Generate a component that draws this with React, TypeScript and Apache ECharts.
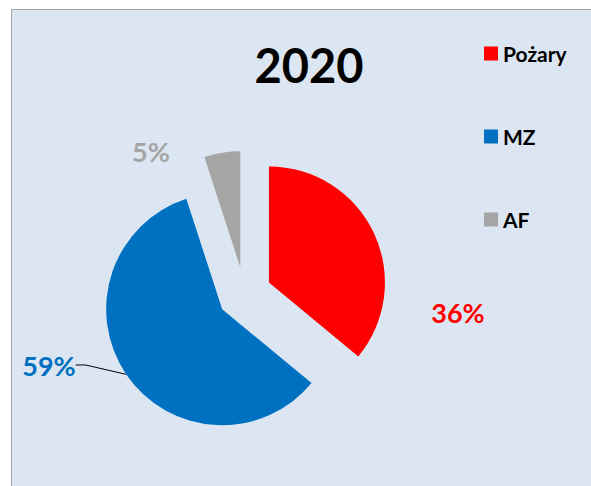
import React, { useEffect, useRef } from "react";
import * as echarts from "echarts";

const title = "2020";
const categories = ["Pożary", "MZ", "AF"];
const shares = [36, 59, 5];
const colors = ["#ff0000", "#0070c0", "#a5a5a5"];
const labelPositions = [
  [458, 312],
  [49, 365],
  [151, 151],
];
const showLabelLine = [false, true, false];

const PIE_CENTER = [244.5, 294];
const PIE_RADIUS = 116;
const EXPLODE = 27;

export default function App() {
  const ref = useRef<HTMLDivElement>(null);
  useEffect(() => {
    if (!ref.current) return;
    const chart = echarts.init(ref.current, null, { renderer: "svg" });
    const font = "Lato, 'Open Sans', sans-serif";
    const total = shares.reduce((a, b) => a + b, 0);
    let cum = 0;
    const series = categories.map((name, i) => {
      const startFrac = cum / total;
      const midFrac = (cum + shares[i] / 2) / total;
      cum += shares[i];
      const mid = midFrac * 2 * Math.PI; // clockwise from 12 o'clock
      const cx = PIE_CENTER[0] + EXPLODE * Math.sin(mid);
      const cy = PIE_CENTER[1] - EXPLODE * Math.cos(mid);
      return {
        type: "pie",
        name,
        color: [colors[i], "rgba(0,0,0,0)"],
        center: [cx, cy],
        radius: PIE_RADIUS,
        startAngle: 90 - startFrac * 360,
        clockwise: true,
        avoidLabelOverlap: false,
        emphasis: { disabled: true },
        selectedMode: false,
        itemStyle: { borderWidth: 0 },
        label: {
          show: true,
          position: "outside",
          formatter: (p: any) => Math.round((p.value / total) * 100) + "%",
          fontFamily: font,
          fontWeight: "bold",
          fontSize: 27,
          color: colors[i],
        },
        labelLine: {
          show: showLabelLine[i],
          length: 10,
          length2: 10,
          lineStyle: { color: "#000000", width: 1 },
        },
        labelLayout: () => {
          const p = labelPositions[i];
          return { x: p[0], y: p[1], align: "center", verticalAlign: "middle" };
        },
        data: [
          {
            name,
            value: shares[i],
            itemStyle: { color: colors[i] },
          },
          {
            name: "__rest" + i,
            value: total - shares[i],
            itemStyle: { color: "rgba(0,0,0,0)" },
            label: { show: false },
            labelLine: { show: false },
            silent: true,
          },
        ],
      };
    });
    chart.setOption({
      animation: false,
      backgroundColor: "#ffffff",
      graphic: [
        {
          type: "rect",
          z: -10,
          shape: { x: 11.5, y: 9.5, width: 600, height: 500 },
          style: { fill: "#dce6f2", stroke: "#a6a6a6", lineWidth: 1 },
          silent: true,
        },
        {
          type: "text",
          x: 309,
          y: 65,
          style: {
            text: title,
            align: "center",
            verticalAlign: "middle",
            fill: "#000000",
            fontFamily: font,
            fontWeight: "bold",
            fontSize: 47,
          },
        },
      ],
      legend: {
        orient: "vertical",
        left: 479,
        top: 38,
        icon: "rect",
        itemWidth: 14,
        itemHeight: 14,
        itemGap: 62,
        textStyle: {
          fontFamily: font,
          fontWeight: "bold",
          fontSize: 21,
          lineHeight: 20,
          color: "#000000",
        },
        data: categories.map((name, i) => ({
          name,
          itemStyle: { color: colors[i] },
        })),
      },
      series,
    });
    return () => chart.dispose();
  }, []);
  return (
    <div
      ref={ref}
      style={{ position: "fixed", left: 0, top: 0, width: 591, height: 486 }}
    />
  );
}
